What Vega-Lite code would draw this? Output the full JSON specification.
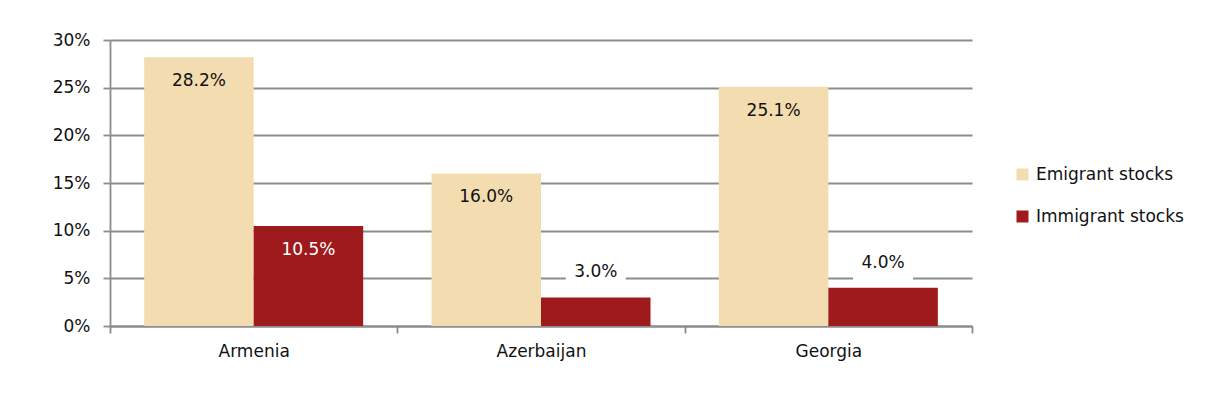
{
  "$schema": "https://vega.github.io/schema/vega-lite/v6.json",
  "width": 862,
  "height": 286,
  "autosize": {"type": "none"},
  "padding": {"left": 110, "top": 40, "right": 233, "bottom": 77},
  "background": "white",
  "config": {
    "font": "DejaVu Sans",
    "view": {"stroke": null},
    "axis": {"labelFont": "DejaVu Sans", "labelFontSize": 17, "labelColor": "#111", "titleFont": "DejaVu Sans"},
    "legend": {"labelFont": "DejaVu Sans", "labelFontSize": 17, "labelColor": "#111"}
  },
  "data": {
    "values": [
      {"country": "Armenia", "type": "Emigrant stocks", "value": 0.282},
      {"country": "Armenia", "type": "Immigrant stocks", "value": 0.105},
      {"country": "Azerbaijan", "type": "Emigrant stocks", "value": 0.160},
      {"country": "Azerbaijan", "type": "Immigrant stocks", "value": 0.030},
      {"country": "Georgia", "type": "Emigrant stocks", "value": 0.251},
      {"country": "Georgia", "type": "Immigrant stocks", "value": 0.040}
    ]
  },
  "encoding": {
    "x": {
      "field": "country", "type": "nominal", "sort": null,
      "scale": {"paddingInner": 0, "paddingOuter": 0},
      "axis": {
        "title": null, "labelAngle": 0, "tickBand": "extent",
        "domainColor": "#8c8c8c", "domainWidth": 1.8,
        "tickColor": "#8c8c8c", "tickWidth": 1.8, "tickSize": 7,
        "labelPadding": 10, "grid": false
      }
    },
    "xOffset": {
      "field": "type", "type": "nominal",
      "scale": {"paddingOuter": 0.312, "paddingInner": 0}
    },
    "y": {
      "field": "value", "type": "quantitative",
      "scale": {"domain": [0, 0.3], "nice": false},
      "axis": {
        "title": null, "format": ".0%", "values": [0, 0.05, 0.1, 0.15, 0.2, 0.25, 0.3],
        "grid": true, "gridColor": "#8c8c8c", "gridWidth": 1.8,
        "domainColor": "#8c8c8c", "domainWidth": 1.8,
        "tickColor": "#8c8c8c", "tickWidth": 1.8, "tickSize": 7,
        "labelPadding": 13
      }
    }
  },
  "layer": [
    {
      "mark": {"type": "bar"},
      "encoding": {
        "color": {
          "field": "type", "type": "nominal",
          "scale": {"domain": ["Emigrant stocks", "Immigrant stocks"], "range": ["#F3DCAF", "#9E1A1D"]},
          "legend": {
            "title": null, "orient": "none", "legendX": 904, "legendY": 126,
            "symbolType": "square", "symbolSize": 144, "symbolStrokeWidth": 0,
            "labelOffset": 5, "rowPadding": 24
          }
        }
      }
    },
    {
      "transform": [{"filter": "datum.value >= 0.05"}],
      "mark": {"type": "text", "baseline": "middle", "dy": 24, "fontSize": 17, "font": "DejaVu Sans"},
      "encoding": {
        "text": {"field": "value", "type": "quantitative", "format": ".1%"},
        "color": {
          "condition": {"test": "datum.type === 'Immigrant stocks'", "value": "white"},
          "value": "#111"
        }
      }
    },
    {
      "transform": [{"filter": "datum.value < 0.05"}],
      "mark": {
        "type": "point", "filled": true, "color": "white", "opacity": 1,
        "shape": "M-1,-1.2L1,-1.2L1,-0.25L-1,-0.25Z", "size": 3600, "strokeWidth": 0
      }
    },
    {
      "transform": [{"filter": "datum.value < 0.05"}],
      "mark": {"type": "text", "baseline": "middle", "dy": -25, "fontSize": 17, "font": "DejaVu Sans", "color": "#111"},
      "encoding": {
        "text": {"field": "value", "type": "quantitative", "format": ".1%"}
      }
    }
  ]
}
